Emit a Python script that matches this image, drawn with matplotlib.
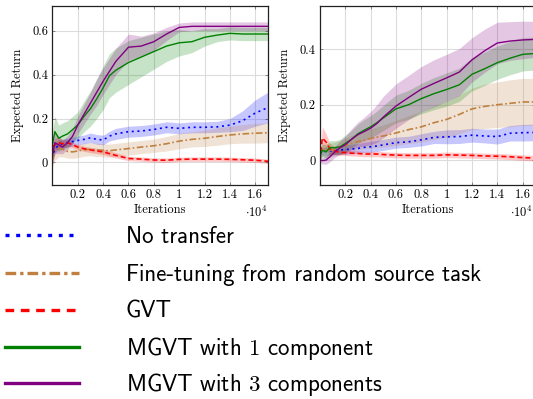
import numpy as np
import matplotlib
matplotlib.use("Agg")
import matplotlib.pyplot as plt
from matplotlib.lines import Line2D

plt.rcParams['font.family'] = 'cmr10'
plt.rcParams['mathtext.fontset'] = 'cm'
plt.rcParams['axes.unicode_minus'] = False

# iterations, in units of 10^4
x_k = [0, 0.02, 0.05, 0.08, 0.12, 0.16, 0.2, 0.25, 0.3, 0.35, 0.4, 0.45, 0.5,
       0.6, 0.7, 0.8, 0.9, 1.0, 1.1, 1.2, 1.3, 1.4, 1.5, 1.6, 1.7]

# left task: mean and half-width of the shaded band
left_none = [0.02, 0.06, 0.08, 0.085, 0.09, 0.095, 0.10, 0.105, 0.112, 0.105, 0.102, 0.12, 0.13,
             0.14, 0.143, 0.15, 0.16, 0.155, 0.16, 0.16, 0.162, 0.17, 0.19, 0.225, 0.25]
left_none_sd = [0.02, 0.02, 0.02, 0.02, 0.02, 0.02, 0.02, 0.02, 0.022, 0.022, 0.022, 0.022, 0.025,
                0.025, 0.025, 0.025, 0.025, 0.025, 0.025, 0.025, 0.025, 0.03, 0.045, 0.06, 0.07]
left_fine = [0.01, 0.05, 0.065, 0.06, 0.05, 0.048, 0.052, 0.058, 0.06, 0.057, 0.055, 0.053, 0.057,
             0.063, 0.07, 0.076, 0.085, 0.097, 0.105, 0.11, 0.118, 0.125, 0.13, 0.133, 0.135]
left_fine_sd = [0.03, 0.04, 0.04, 0.035, 0.03, 0.03, 0.03, 0.03, 0.03, 0.03, 0.03, 0.03, 0.03,
                0.03, 0.03, 0.03, 0.033, 0.035, 0.035, 0.037, 0.04, 0.04, 0.042, 0.045, 0.045]
left_gvt = [0.07, 0.08, 0.09, 0.085, 0.09, 0.08, 0.07, 0.062, 0.057, 0.052, 0.048, 0.04, 0.032,
            0.018, 0.015, 0.011, 0.01, 0.014, 0.015, 0.015, 0.015, 0.014, 0.012, 0.01, 0.005]
left_gvt_sd = [0.03, 0.03, 0.025, 0.02, 0.015, 0.012, 0.012, 0.012, 0.012, 0.012, 0.012, 0.012, 0.012,
               0.01, 0.01, 0.01, 0.01, 0.01, 0.01, 0.01, 0.01, 0.01, 0.01, 0.01, 0.01]
left_mgvt1 = [0.08, 0.14, 0.11, 0.12, 0.13, 0.15, 0.17, 0.21, 0.245, 0.29, 0.34, 0.395, 0.42,
              0.455, 0.48, 0.505, 0.53, 0.545, 0.55, 0.57, 0.58, 0.588, 0.585, 0.585, 0.585]
left_mgvt1_sd = [0.06, 0.07, 0.06, 0.06, 0.06, 0.06, 0.06, 0.07, 0.08, 0.09, 0.1, 0.1, 0.1,
                 0.1, 0.09, 0.08, 0.07, 0.06, 0.05, 0.04, 0.03, 0.03, 0.03, 0.03, 0.03]
left_mgvt3 = [0.03, 0.09, 0.08, 0.07, 0.09, 0.12, 0.17, 0.22, 0.27, 0.32, 0.37, 0.415, 0.46,
              0.525, 0.53, 0.55, 0.585, 0.615, 0.62, 0.62, 0.62, 0.62, 0.62, 0.62, 0.62]
left_mgvt3_sd = [0.04, 0.05, 0.04, 0.03, 0.03, 0.035, 0.04, 0.045, 0.05, 0.06, 0.06, 0.06, 0.06,
                 0.06, 0.045, 0.04, 0.03, 0.02, 0.02, 0.02, 0.02, 0.02, 0.02, 0.02, 0.02]

# right task
right_none = [0.02, 0.03, 0.032, 0.033, 0.035, 0.037, 0.038, 0.04, 0.042, 0.046, 0.048, 0.051, 0.055,
              0.063, 0.066, 0.073, 0.082, 0.084, 0.085, 0.09, 0.087, 0.085, 0.097, 0.099, 0.1]
right_none_sd = [0.015, 0.015, 0.015, 0.015, 0.015, 0.015, 0.017, 0.017, 0.018, 0.018, 0.02, 0.02, 0.02,
                 0.02, 0.02, 0.022, 0.022, 0.025, 0.025, 0.025, 0.025, 0.027, 0.028, 0.03, 0.03]
right_fine = [0.02, 0.04, 0.035, 0.035, 0.04, 0.045, 0.052, 0.06, 0.067, 0.072, 0.078, 0.083, 0.087,
              0.098, 0.11, 0.12, 0.135, 0.147, 0.165, 0.185, 0.194, 0.2, 0.205, 0.21, 0.21]
right_fine_sd = [0.02, 0.025, 0.025, 0.025, 0.025, 0.025, 0.027, 0.028, 0.03, 0.032, 0.035, 0.037, 0.04,
                 0.045, 0.05, 0.055, 0.06, 0.065, 0.07, 0.075, 0.08, 0.082, 0.085, 0.085, 0.085]
right_gvt = [0.0, 0.08, 0.065, 0.04, 0.032, 0.028, 0.027, 0.025, 0.024, 0.022, 0.022, 0.022, 0.02,
             0.018, 0.017, 0.017, 0.017, 0.019, 0.018, 0.017, 0.015, 0.014, 0.012, 0.009, 0.007]
right_gvt_sd = [0.01, 0.04, 0.03, 0.02, 0.012, 0.01, 0.01, 0.01, 0.01, 0.01, 0.01, 0.01, 0.01,
                0.01, 0.01, 0.01, 0.01, 0.01, 0.01, 0.01, 0.01, 0.01, 0.01, 0.01, 0.01]
right_mgvt1 = [0.015, 0.035, 0.03, 0.045, 0.045, 0.048, 0.06, 0.075, 0.095, 0.108, 0.12, 0.135, 0.152,
               0.185, 0.2, 0.222, 0.24, 0.255, 0.272, 0.31, 0.33, 0.352, 0.368, 0.382, 0.385]
right_mgvt1_sd = [0.02, 0.022, 0.025, 0.025, 0.025, 0.027, 0.03, 0.032, 0.035, 0.038, 0.04, 0.042, 0.045,
                  0.05, 0.052, 0.055, 0.058, 0.06, 0.06, 0.06, 0.06, 0.06, 0.06, 0.06, 0.06]
right_mgvt3 = [0.0, -0.002, 0.0, 0.012, 0.03, 0.045, 0.055, 0.075, 0.092, 0.103, 0.115, 0.132, 0.155,
               0.195, 0.226, 0.256, 0.277, 0.297, 0.318, 0.362, 0.395, 0.423, 0.43, 0.434, 0.436]
right_mgvt3_sd = [0.01, 0.012, 0.015, 0.018, 0.02, 0.025, 0.03, 0.038, 0.045, 0.052, 0.06, 0.068, 0.075,
                  0.08, 0.08, 0.082, 0.085, 0.085, 0.085, 0.08, 0.078, 0.075, 0.07, 0.068, 0.065]

labels = ['No transfer', 'Fine-tuning from random source task', 'GVT',
          'MGVT with $1$ component', 'MGVT with $3$ components']
colors = ['#0000ff', '#bf8040', '#ff0000', '#008000', '#800080']
styles = [(0, (1.2, 2.2)), (0, (4, 1.5, 1, 1.5)), (0, (3, 1.8)), '-', '-']
legend_styles = [(0, (1.2, 2.0)), (0, (3.2, 1.2, 1, 1.2)), (0, (2.6, 2.0)), '-', '-']

xticks_k = [0.2, 0.4, 0.6, 0.8, 1, 1.2, 1.4, 1.6]
xtick_labels = ['0.2', '0.4', '0.6', '0.8', '1', '1.2', '1.4', '1.6']

iters = np.array(x_k) * 1e4

fig = plt.figure(figsize=(5.33, 3.99), dpi=100)
ax1 = fig.add_axes([0.0983, 0.5363, 0.4045, 0.4486])
ax2 = fig.add_axes([0.600, 0.5363, 0.4045, 0.4486])


def draw(ax, series, ylim, yticks, ylabels, exp_x):
    for (m, sd), c, ls in zip(series, colors, styles):
        m = np.array(m)
        sd = np.array(sd)
        ax.fill_between(iters, m - sd, m + sd, color=c, alpha=0.22, lw=0)
        ax.plot(iters, m, color=c, ls=ls, lw=1.2 if ls != '-' else 1.0)
    ax.set_xlim(0, 1.7e4)
    ax.set_ylim(*ylim)
    ax.set_xticks(np.array(xticks_k) * 1e4)
    ax.set_xticklabels(xtick_labels)
    ax.set_yticks(yticks)
    ax.set_yticklabels(ylabels)
    ax.grid(True, color='#dcdcdc', lw=0.8)
    ax.set_axisbelow(True)
    ax.tick_params(direction='in', length=2.5, width=0.6, color='#777777',
                   labelsize=9, pad=3, top=True, right=True)
    for s in ax.spines.values():
        s.set_linewidth(0.9)
        s.set_color('#222222')
    ax.set_xlabel('Iterations', fontsize=9, labelpad=2)
    ax.set_ylabel('Expected Return', fontsize=9, labelpad=6)
    ax.text(exp_x, -0.11, r'$\cdot 10^4$', transform=ax.transAxes, ha='right', va='top', fontsize=9)


draw(ax1, [(left_none, left_none_sd), (left_fine, left_fine_sd), (left_gvt, left_gvt_sd),
           (left_mgvt1, left_mgvt1_sd), (left_mgvt3, left_mgvt3_sd)],
     (-0.103, 0.7125), [0, 0.2, 0.4, 0.6], ['0', '0.2', '0.4', '0.6'], 1.0)
draw(ax2, [(right_none, right_none_sd), (right_fine, right_fine_sd), (right_gvt, right_gvt_sd),
           (right_mgvt1, right_mgvt1_sd), (right_mgvt3, right_mgvt3_sd)],
     (-0.09, 0.5565), [0, 0.2, 0.4], ['0', '0.2', '0.4'], 0.985)

# legend below the plots, one row at a time so the rows are evenly spaced
row_y = [237, 275, 312, 349, 385]
for lab, c, ls, y in zip(labels, colors, legend_styles, row_y):
    h = Line2D([], [], color=c, ls=ls, lw=2.4)
    fig.legend([h], [lab], loc='center left', bbox_to_anchor=(5 / 533, 1 - y / 399),
               frameon=False, borderpad=0, borderaxespad=0, handlelength=3.23,
               handletextpad=2.05, prop={'family': 'cmss10', 'size': 16.5})

fig.savefig('out.png', dpi=100)
